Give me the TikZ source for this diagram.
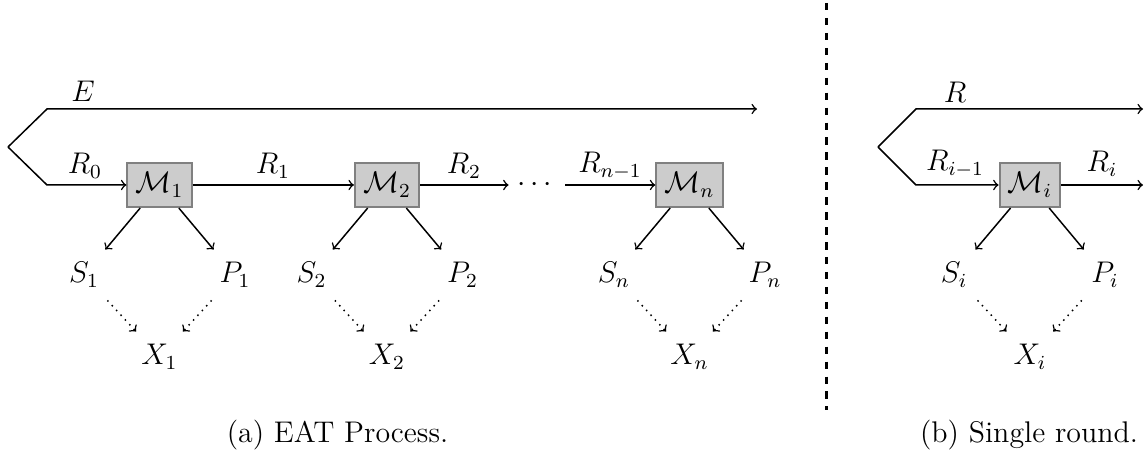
\documentclass[tikz,border=0pt]{standalone}
\usepackage{amsmath}
\begin{document}
\begin{tikzpicture}[x=0.4016pt,y=-0.4016pt,
  every node/.style={font=\fontsize{12}{14.4}\selectfont},
  conn/.style={semithick,->},
  dotconn/.style={semithick,dotted,->},
  mbox/.style={draw=black!50,fill=black!20,line width=0.8pt,inner xsep=3.3pt,inner ysep=2pt,minimum height=17.7pt},
  outv/.style={inner sep=5pt},
  lab/.style={inner sep=0pt},
  sep/.style={line width=1.2pt,dashed}]
\useasboundingbox (0,0) rectangle (1148,454);
% ---------- (a) EAT process ----------
\coordinate (spa) at (8,147);
\coordinate (cEa) at (47,109);
\coordinate (endEa) at (757,109);
\coordinate (c0a) at (47,185);
\node[mbox] (M1) at (159.5,185) {$\mathcal{M}_1$};
\node[mbox] (M2) at (387,185) {$\mathcal{M}_2$};
\node[inner xsep=3.2pt] (dots) at (537,185) {$\cdots$};
\node[mbox] (Mn) at (689.5,185) {$\mathcal{M}_n$};
\node[outv] (S1) at (84,275) {$S_1$};
\node[outv] (P1) at (235,275) {$P_1$};
\node[outv] (X1) at (159.5,357) {$X_1$};
\node[outv] (S2) at (311.5,275) {$S_2$};
\node[outv] (P2) at (462.5,275) {$P_2$};
\node[outv] (X2) at (387,357) {$X_2$};
\node[outv] (Sn) at (614,275) {$S_n$};
\node[outv] (Pn) at (765,275) {$P_n$};
\node[outv] (Xn) at (689.5,357) {$X_n$};
\node[lab] (lE) at (83,91) {$E$};
\node[lab] (lR0) at (85,166) {$R_0$};
\node[lab] (lR1) at (273,166) {$R_1$};
\node[lab] (lR2) at (464,166) {$R_2$};
\node[lab] (lRn) at (610,166) {$R_{n-1}$};
\draw[conn] (spa) -- (cEa) -- (endEa);
\draw[conn] (spa) -- (c0a) -- (M1);
\draw[conn] (M1) -- (M2);
\draw[conn] (M2) -- (dots);
\draw[conn] (dots) -- (Mn);
\foreach \m/\s/\p/\x in {M1/S1/P1/X1, M2/S2/P2/X2, Mn/Sn/Pn/Xn}{
  \draw[conn] (\m) -- (\s);
  \draw[conn] (\m) -- (\p);
  \draw[dotconn] (\s) -- (\x);
  \draw[dotconn] (\p) -- (\x);
}
\node (capa) at (337.5,435) {(a) EAT Process.};
% ---------- separator ----------
\coordinate (sepT) at (826,3);
\coordinate (sepB) at (826,410);
\draw[sep] (sepT) -- (sepB);
% ---------- (b) single round ----------
\coordinate (spb) at (878,147);
\coordinate (cEb) at (916,109);
\coordinate (endEb) at (1143,109);
\coordinate (c0b) at (916,185);
\coordinate (endRi) at (1143,185);
\node[mbox] (Mi) at (1030,185) {$\mathcal{M}_i$};
\node[outv] (Si) at (954,275) {$S_i$};
\node[outv] (Pi) at (1105,275) {$P_i$};
\node[outv] (Xi) at (1030,357) {$X_i$};
\node[lab] (lR) at (955,92) {$R$};
\node[lab] (lRim) at (955,164) {$R_{i-1}$};
\node[lab] (lRi) at (1102,164) {$R_i$};
\draw[conn] (spb) -- (cEb) -- (endEb);
\draw[conn] (spb) -- (c0b) -- (Mi);
\draw[conn] (Mi) -- (endRi);
\draw[conn] (Mi) -- (Si);
\draw[conn] (Mi) -- (Pi);
\draw[dotconn] (Si) -- (Xi);
\draw[dotconn] (Pi) -- (Xi);
\node (capb) at (1029,435) {(b) Single round.};
\end{tikzpicture}
\end{document}
